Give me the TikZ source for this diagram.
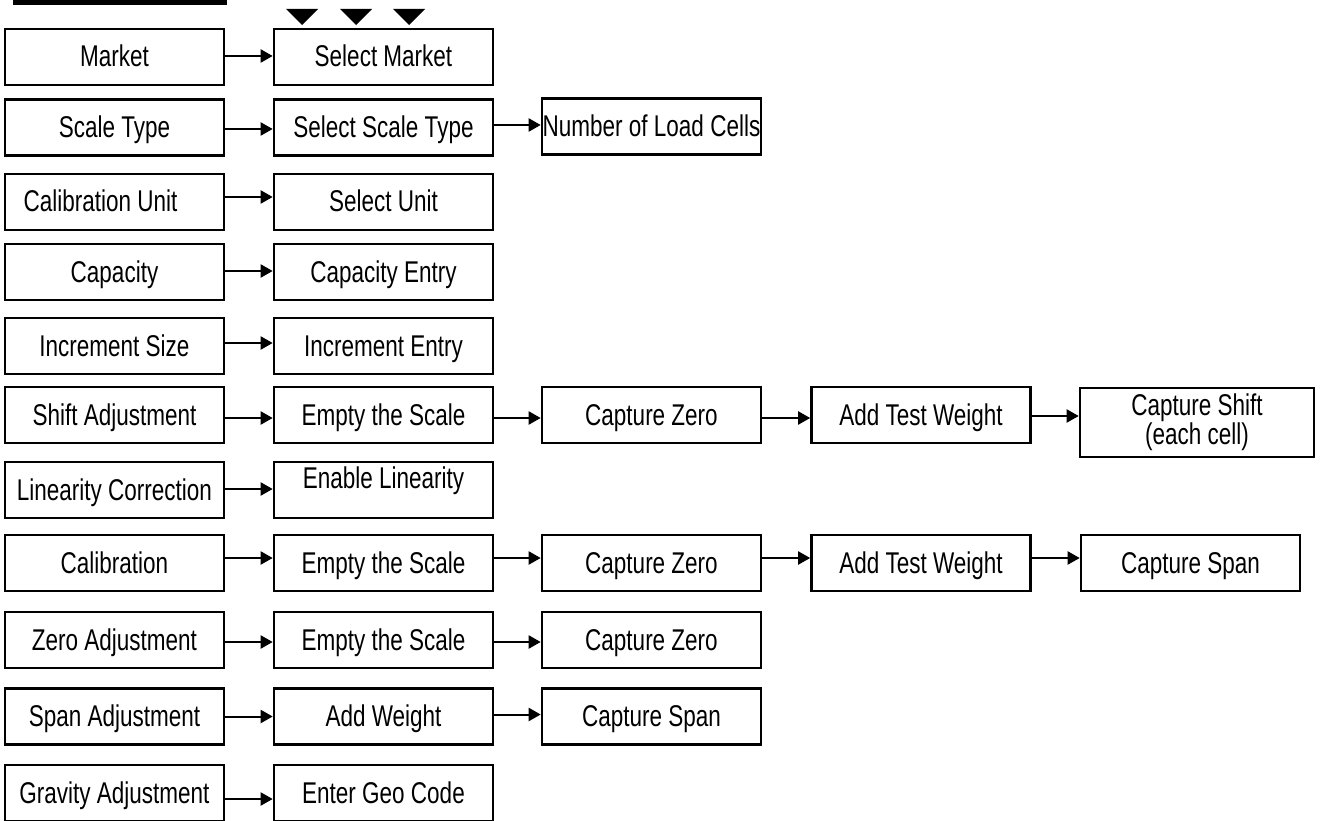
\documentclass[tikz,border=0pt]{standalone}
\usepackage{fontspec}
\setmainfont{Liberation Sans}[FakeStretch=0.75]
\usetikzlibrary{arrows.meta}

\tikzset{
  box/.style={draw=black, line width=2.6pt, minimum width=219pt, minimum height=56pt,
              inner sep=0pt, align=center, text height=24pt, text depth=4pt,
              font=\fontsize{30}{25}\selectfont},
  arr/.style={line width=2pt, -{Triangle[length=12pt,width=13pt]}},
  marker/.style={fill=black}
}

\begin{document}
\begin{tikzpicture}[x=1pt,y=-1pt]
\useasboundingbox (0,0) rectangle (1320,821);

% header bar and column markers
\fill[marker] (13,-5) rectangle (227,5);
\fill[marker] (286,9) -- (318,9) -- (302,25) -- cycle;
\fill[marker] (340,9) -- (372,9) -- (356,25) -- cycle;
\fill[marker] (393,9) -- (425,9) -- (409,25) -- cycle;

% row 1
\node[box] (market)    at (114.5,57) {Market};
\node[box] (selmarket) at (383.5,57) {Select Market};
% row 2
\node[box] (scaletype) at (114.5,127.5) {Scale Type};
\node[box] (selscale)  at (383.5,127.5) {Select Scale Type};
\node[box] (loadcells) at (651.5,126.5) {Number of Load Cells};
% row 3
\node[box] (calunit)   at (114.5,202) {Calibration Unit\hspace*{28pt}};
\node[box] (selunit)   at (383.5,202) {Select Unit};
% row 4
\node[box] (capacity)  at (114.5,272) {Capacity};
\node[box] (capentry)  at (383.5,272) {Capacity Entry};
% row 5
\node[box] (incsize)   at (114.5,346) {Increment Size};
\node[box] (incentry)  at (383.5,346) {Increment Entry};
% row 6
\node[box] (shift)     at (114.5,415) {Shift Adjustment};
\node[box] (emptyA)    at (383.5,415) {Empty the Scale};
\node[box] (zeroA)     at (651.5,415) {Capture Zero};
\node[box] (testA)     at (921,415)   {Add Test Weight};
\node[box, minimum width=234pt, minimum height=69pt, text height={}, text depth={},
      font=\fontsize{30}{25}\selectfont] (capshift) at (1197,422.5)
      {Capture Shift\\(each cell)};
% row 7
\node[box] (linear)    at (114.5,490) {Linearity Correction};
\node[box, text depth=28pt] (enable) at (383.5,490) {Enable Linearity};
% row 8
\node[box] (calib)     at (114.5,563) {Calibration};
\node[box] (emptyB)    at (383.5,563) {Empty the Scale};
\node[box] (zeroB)     at (651.5,563) {Capture Zero};
\node[box] (testB)     at (921,563)   {Add Test Weight};
\node[box] (spanB)     at (1190.5,563) {Capture Span};
% row 9
\node[box] (zeroadj)   at (114.5,640) {Zero Adjustment};
\node[box] (emptyC)    at (383.5,640) {Empty the Scale};
\node[box] (zeroC)     at (651.5,640) {Capture Zero};
% row 10
\node[box] (spanadj)   at (114.5,716.5) {Span Adjustment};
\node[box] (addweight) at (383.5,716.5) {Add Weight};
\node[box] (spanC)     at (651.5,716.5) {Capture Span};
% row 11
\node[box] (gravity)   at (114.5,793) {Gravity Adjustment};
\node[box] (geocode)   at (383.5,793) {Enter Geo Code};

% connectors
\draw[arr] ([yshift=1pt]market.east) -- ([yshift=1pt]selmarket.west);
\draw[arr] ([yshift=-1.5pt]scaletype.east) -- ([yshift=-1.5pt]selscale.west);
\draw[arr] ([yshift=2.5pt]selscale.east) -- ([yshift=1.5pt]loadcells.west);
\draw[arr] ([yshift=5pt]calunit.east) -- ([yshift=5pt]selunit.west);
\draw[arr] ([yshift=1pt]capacity.east) -- ([yshift=1pt]capentry.west);
\draw[arr] ([yshift=3pt]incsize.east) -- ([yshift=3pt]incentry.west);
\draw[arr] ([yshift=-3pt]shift.east) -- ([yshift=-3pt]emptyA.west);
\draw[arr] ([yshift=-3pt]emptyA.east) -- ([yshift=-3pt]zeroA.west);
\draw[arr] ([yshift=-3pt]zeroA.east) -- ([yshift=-3pt]testA.west);
\draw[arr] ([yshift=-1pt]testA.east) -- ([yshift=6.5pt]capshift.west);
\draw[arr] ([yshift=1pt]linear.east) -- ([yshift=1pt]enable.west);
\draw[arr] ([yshift=5pt]calib.east) -- ([yshift=5pt]emptyB.west);
\draw[arr] ([yshift=5pt]emptyB.east) -- ([yshift=5pt]zeroB.west);
\draw[arr] ([yshift=5pt]zeroB.east) -- ([yshift=5pt]testB.west);
\draw[arr] ([yshift=5pt]testB.east) -- ([yshift=5pt]spanB.west);
\draw[arr] ([yshift=-2pt]zeroadj.east) -- ([yshift=-2pt]emptyC.west);
\draw[arr] ([yshift=-2pt]emptyC.east) -- ([yshift=-2pt]zeroC.west);
\draw[arr] ([yshift=0pt]spanadj.east) -- ([yshift=0pt]addweight.west);
\draw[arr] ([yshift=2pt]addweight.east) -- ([yshift=2pt]spanC.west);
\draw[arr] ([yshift=-6pt]gravity.east) -- ([yshift=-6pt]geocode.west);
\end{tikzpicture}
\end{document}
